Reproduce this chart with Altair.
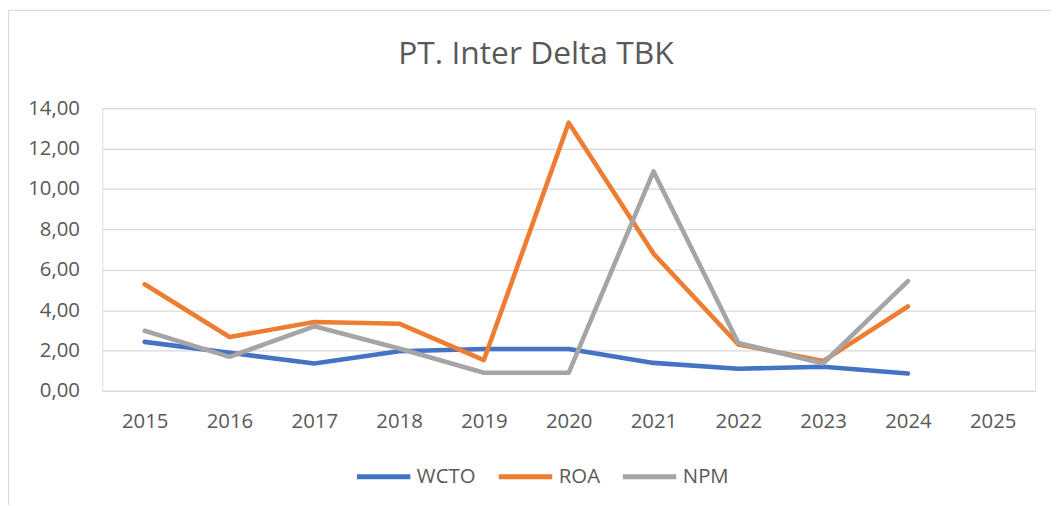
import altair as alt
import pandas as pd

years = ["2015", "2016", "2017", "2018", "2019", "2020", "2021", "2022", "2023", "2024", "2025"]
data_years = years[:10]
series_names = ["WCTO", "ROA", "NPM"]
wcto = [2.43, 1.89, 1.36, 1.97, 2.08, 2.08, 1.39, 1.10, 1.20, 0.86]
roa = [5.28, 2.67, 3.41, 3.33, 1.53, 13.28, 6.80, 2.30, 1.48, 4.18]
npm = [2.98, 1.69, 3.20, 2.10, 0.90, 0.90, 10.87, 2.38, 1.36, 5.44]
colors = ["#4472C4", "#ED7D31", "#A5A5A5"]
y_ticks = [0, 2, 4, 6, 8, 10, 12, 14]

rows = []
for name, vals in zip(series_names, [wcto, roa, npm]):
    for i, (yr, v) in enumerate(zip(data_years, vals)):
        rows.append({"Tahun": yr, "Seri": name, "Nilai": v, "ord": series_names.index(name)})
df = pd.DataFrame(rows)

FONT = "Open Sans"
TXT = "#595959"
GRID = "#D9D9D9"

lines = alt.Chart(df).mark_line(strokeWidth=4.6, strokeCap="round", strokeJoin="round").encode(
    x=alt.X("Tahun:O", scale=alt.Scale(type="point", domain=years, padding=0.5),
            axis=alt.Axis(title=None, labelAngle=0, domain=False, ticks=False, grid=False,
                          labelFont=FONT, labelFontSize=20.5, labelColor=TXT, labelPadding=21)),
    y=alt.Y("Nilai:Q", scale=alt.Scale(domain=[0, 14], nice=False, zero=True),
            axis=alt.Axis(title=None, values=y_ticks, domain=False, ticks=False, grid=True,
                          gridColor=GRID, gridWidth=1.3,
                          labelExpr="replace(format(datum.value, '.2f'), '.', ',')",
                          labelFont=FONT, labelFontSize=20.5, labelColor=TXT, labelPadding=23)),
    color=alt.Color("Seri:N", scale=alt.Scale(domain=series_names, range=colors),
                    legend=alt.Legend(title=None, orient="none", direction="horizontal",
                                      legendX=254, legendY=342,
                                      symbolType="stroke", symbolSize=2900, symbolStrokeWidth=5,
                                      labelFont=FONT, labelFontSize=20.5, labelColor=TXT,
                                      labelOffset=4, columnPadding=12)),
    order=alt.Order("ord:Q"),
    detail="Seri:N",
)

border_df = pd.DataFrame({"k": [0]})
left_border = alt.Chart(border_df).mark_rule(color=GRID, strokeWidth=1.3).encode(
    x=alt.value(-94.5), y=alt.value(-98.5), y2=alt.value(400))
top_border = alt.Chart(border_df).mark_rule(color=GRID, strokeWidth=1.3).encode(
    x=alt.value(-94.5), x2=alt.value(960), y=alt.value(-98.5))

chart = alt.layer(left_border, top_border, lines).properties(
    width=940, height=285,
    title=alt.TitleParams("PT. Inter Delta TBK", font=FONT, fontSize=32, fontWeight="normal",
                          color=TXT, anchor="middle", dx=-33, offset=-62),
    autosize=alt.AutoSizeParams(type="none"),
    padding={"left": 95, "top": 99, "right": 16, "bottom": 114},
).configure_view(stroke=None).configure(background="white")

chart.save("out.html", embed_options={"renderer": "svg", "actions": False})
